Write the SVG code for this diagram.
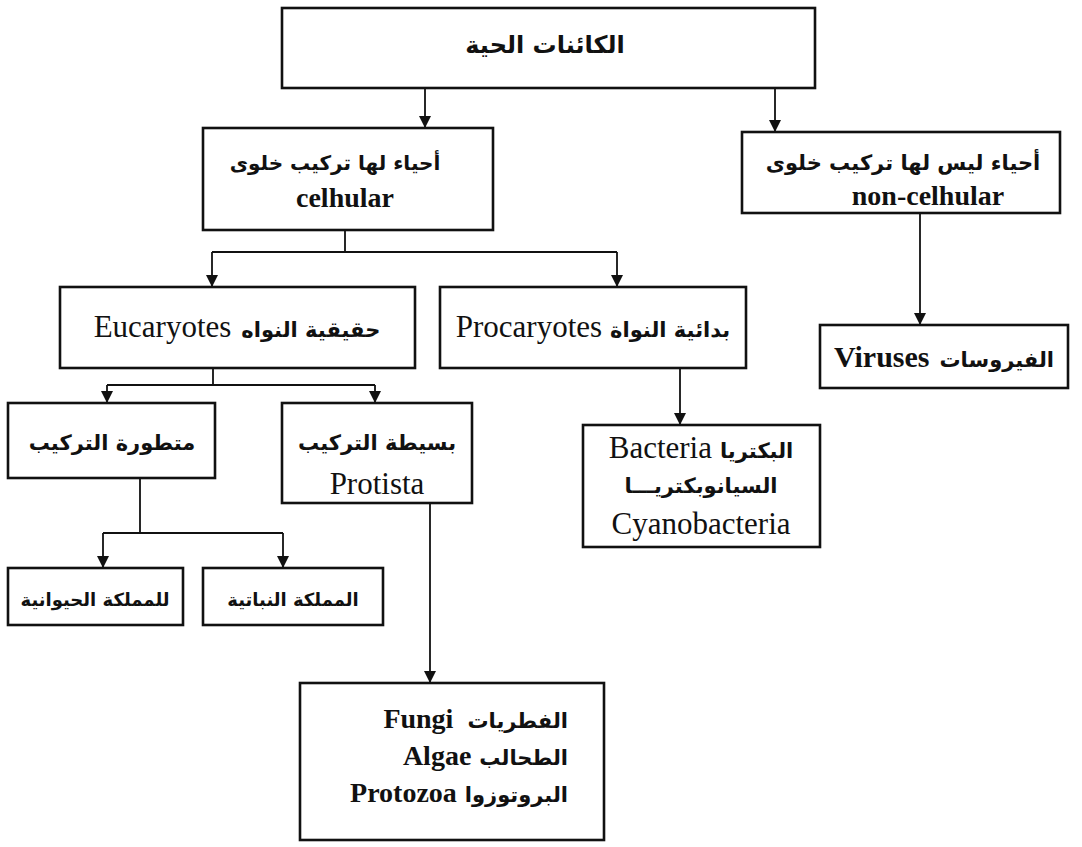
<svg xmlns="http://www.w3.org/2000/svg" width="1082" height="847" viewBox="0 0 1082 847">
<defs>
<marker id="ah" viewBox="0 0 10 10" refX="10" refY="5" markerWidth="12" markerHeight="12" markerUnits="userSpaceOnUse" orient="auto">
<path d="M0,0 L10,5 L0,10 z" fill="#111"/>
</marker>
<style>
.box{fill:#fff;stroke:#111;stroke-width:2.6}
.c{fill:none;stroke:#111;stroke-width:1.8}
.a{marker-end:url(#ah)}
text{fill:#111;font-family:"Liberation Serif","DejaVu Sans",serif;direction:ltr}
.ar{font-family:"DejaVu Sans","Liberation Serif",sans-serif;font-weight:bold;font-size:21px}
.lb{font-weight:bold;font-size:28px}
.lr{font-size:31px}
.m{text-anchor:middle}
.e{text-anchor:end}
</style>
</defs>
<rect width="1082" height="847" fill="#fff"/>
<g id="connectors">
<path class="c a" d="M425,88 V128"/>
<path class="c a" d="M775,88 V132"/>
<path class="c" d="M345,230 V252 M212,252 H617"/>
<path class="c a" d="M212,252 V287"/>
<path class="c a" d="M617,252 V287"/>
<path class="c a" d="M920,213 V325"/>
<path class="c" d="M213,368 V385 M107,385 H375"/>
<path class="c a" d="M107,385 V403"/>
<path class="c a" d="M375,385 V403"/>
<path class="c a" d="M680,368 V425"/>
<path class="c" d="M140,478 V533 M103,533 H283"/>
<path class="c a" d="M103,533 V568"/>
<path class="c a" d="M283,533 V568"/>
<path class="c a" d="M430,503 V683"/>
</g>
<g id="root">
<rect class="box" x="282" y="8" width="533" height="80"/>
<text class="ar m" x="545" y="53" style="font-size:24px">الكائنات الحية</text>
</g>
<g id="cellular">
<rect class="box" x="203" y="128" width="290" height="102"/>
<text class="ar m" x="335" y="170" style="font-size:20px">أحياء لها تركيب خلوى</text>
<text class="lb m" x="345" y="207">celhular</text>
</g>
<g id="noncellular">
<rect class="box" x="742" y="132" width="318" height="81"/>
<text class="ar m" x="903" y="170">أحياء ليس لها تركيب خلوى</text>
<text class="lb m" x="928" y="205">non-celhular</text>
</g>
<g id="eucaryotes">
<rect class="box" x="60" y="287" width="355" height="81"/>
<text class="m" x="237" y="337"><tspan class="lr">Eucaryotes</tspan><tspan class="ar" dx="10">حقيقية النواه</tspan></text>
</g>
<g id="procaryotes">
<rect class="box" x="440" y="287" width="306" height="81"/>
<text class="m" x="593" y="337"><tspan class="lr">Procaryotes</tspan><tspan class="ar" dx="8">بدائية النواة</tspan></text>
</g>
<g id="viruses">
<rect class="box" x="820" y="325" width="248" height="63"/>
<text class="m" x="944" y="367"><tspan class="lb" style="font-size:30px">Viruses</tspan><tspan class="ar" dx="10">الفيروسات</tspan></text>
</g>
<g id="advanced">
<rect class="box" x="8" y="403" width="207" height="75"/>
<text class="ar m" x="112" y="450">متطورة التركيب</text>
</g>
<g id="protista">
<rect class="box" x="282" y="403" width="190" height="100"/>
<text class="ar m" x="377" y="450">بسيطة التركيب</text>
<text class="lr m" x="377" y="494">Protista</text>
</g>
<g id="bacteria">
<rect class="box" x="583" y="425" width="237" height="122"/>
<text class="m" x="701" y="458"><tspan class="lr">Bacteria</tspan><tspan class="ar" dx="8">البكتريا</tspan></text>
<text class="ar m" x="701" y="493">السيانوبكتريـــا</text>
<text class="lr m" x="701" y="534">Cyanobacteria</text>
</g>
<g id="animal">
<rect class="box" x="8" y="568" width="175" height="57"/>
<text class="ar m" x="95" y="606" style="font-size:18px">للمملكة الحيوانية</text>
</g>
<g id="plant">
<rect class="box" x="203" y="568" width="180" height="57"/>
<text class="ar m" x="293" y="606" style="font-size:18px">المملكة النباتية</text>
</g>
<g id="fungi">
<rect class="box" x="300" y="683" width="304" height="157"/>
<text class="e" x="568" y="728"><tspan class="lb">Fungi</tspan><tspan class="ar" dx="14">الفطريات</tspan></text>
<text class="e" x="568" y="765"><tspan class="lb">Algae</tspan><tspan class="ar" dx="8">الطحالب</tspan></text>
<text class="e" x="568" y="802"><tspan class="lb">Protozoa</tspan><tspan class="ar" dx="8">البروتوزوا</tspan></text>
</g>
</svg>
